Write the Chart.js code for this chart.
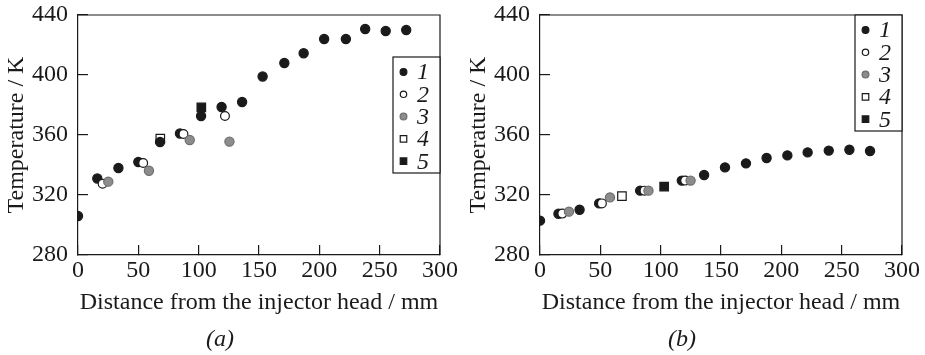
<!DOCTYPE html>
<html><head><meta charset="utf-8">
<script src="https://cdn.jsdelivr.net/npm/chart.js@4/dist/chart.umd.min.js"></script>
<style>
html,body{margin:0;padding:0;background:#fff;}
#wrap{position:relative;width:925px;height:355px;overflow:hidden;}
.panel{position:absolute;top:0;width:462px;height:355px;}
</style></head><body>
<div id="wrap">
<div class="panel" style="left:0"><canvas id="ca"></canvas></div>
<div class="panel" style="left:462px"><canvas id="cb"></canvas></div>
</div>
<script>
// ---- tick labels / categories ----
const xTicks = [0, 50, 100, 150, 200, 250, 300];
const yTicks = [280, 320, 360, 400, 440];
const seriesLabels = ['1', '2', '3', '4', '5'];
const xTitle = 'Distance from the injector head / mm';
const yTitle = 'Temperature / K';

// ---- panel (a) ----
const a1x = [0, 16, 33.5, 50, 68, 84.5, 102, 119, 136, 153, 171, 187, 204, 222, 238, 255, 272];
const a1y = [306, 331, 338, 342, 355.3, 361, 372.7, 378.7, 382, 399, 408, 414.5, 424, 424, 430.7, 429.3, 430];
const a2x = [20.4, 54, 87.4, 121.8];
const a2y = [327.5, 341.3, 360.7, 372.7];
const a3x = [25.1, 58.8, 92.6, 125.5];
const a3y = [328.9, 336.2, 356.7, 355.6];
const a4x = [68.2];
const a4y = [357.6];
const a5x = [102.2];
const a5y = [378.4];

// ---- panel (b) ----
const b1x = [0, 15.3, 32.8, 49, 83, 117.5, 136, 153.3, 170.7, 187.8, 205, 221.8, 239.3, 256.4, 273.5];
const b1y = [302.9, 307.5, 310.2, 314.4, 322.9, 329.6, 333.3, 338.4, 341.1, 344.7, 346.4, 348.4, 349.6, 350.2, 349.3];
const b2x = [18.5, 51.3, 86.6, 120.3];
const b2y = [307.6, 314.4, 322.9, 329.6];
const b3x = [24, 58, 89.9, 124.8];
const b3y = [308.9, 318.4, 322.9, 329.6];
const b4x = [67.9];
const b4y = [319.2];
const b5x = [102.9];
const b5y = [325.6];

const FONT = "'Liberation Serif', 'Times New Roman', serif";
const FS = 24;
const INK = '#1a1a1a';

const styles = [
  {pointStyle: 'circle', backgroundColor: INK, borderColor: INK, pointRadius: 4.6, order: 4, lr: 3.4},
  {pointStyle: 'circle', backgroundColor: '#ffffff', borderColor: INK, pointRadius: 4.4, order: 3, lr: 3.2},
  {pointStyle: 'circle', backgroundColor: '#8c8c8c', borderColor: '#6e6e6e', pointRadius: 4.6, order: 2, lr: 3.4},
  {pointStyle: 'rect', backgroundColor: '#ffffff', borderColor: INK, pointRadius: 6, order: 5, lr: 4.6},
  {pointStyle: 'rect', backgroundColor: INK, borderColor: INK, pointRadius: 6, order: 1, lr: 4.6}
];

function pts(xs, ys) { return xs.map((x, i) => ({x: x, y: ys[i]})); }

function buildDatasets(list) {
  return list.map((p, i) => ({
    label: seriesLabels[i],
    data: pts(p[0], p[1]),
    pointStyle: styles[i].pointStyle,
    backgroundColor: styles[i].backgroundColor,
    borderColor: styles[i].borderColor,
    pointBorderWidth: 1.2,
    pointRadius: styles[i].pointRadius,
    pointHoverRadius: styles[i].pointRadius,
    showLine: false,
    order: styles[i].order
  }));
}

const framePlugin = {
  id: 'frame',
  afterDraw(chart) {
    const {ctx, chartArea: a} = chart;
    ctx.save();
    ctx.strokeStyle = INK;
    ctx.lineWidth = 1.2;
    ctx.beginPath();
    ctx.moveTo(a.left, a.top);
    ctx.lineTo(a.right, a.top);
    ctx.lineTo(a.right, a.bottom);
    ctx.stroke();
    ctx.restore();
  }
};

const boxLegend = {
  id: 'boxLegend',
  afterDraw(chart, args, opts) {
    const {ctx, chartArea: a} = chart;
    const w = 47, h = 116;
    const left = a.right - w, top = opts.top;
    ctx.save();
    ctx.fillStyle = '#fff';
    ctx.fillRect(left, top, w, h);
    ctx.strokeStyle = INK;
    ctx.lineWidth = 1.2;
    ctx.strokeRect(left, top, w, h);
    chart.data.datasets.forEach((ds, i) => {
      const y = top + 15 + i * 22.3;
      ctx.fillStyle = ds.backgroundColor;
      ctx.strokeStyle = ds.borderColor;
      ctx.lineWidth = 1.2;
      Chart.helpers.drawPoint(ctx, {pointStyle: ds.pointStyle, radius: styles[i].lr, rotation: 0, borderWidth: 1.2}, left + 10.5, y);
      ctx.fillStyle = INK;
      ctx.font = 'italic ' + FS + 'px ' + FONT;
      ctx.textAlign = 'left';
      ctx.textBaseline = 'middle';
      ctx.fillText(ds.label, left + 24, y + 1);
    });
    ctx.restore();
  }
};

function makeChart(id, list, caption, legendTop) {
  return new Chart(document.getElementById(id), {
    type: 'scatter',
    data: {datasets: buildDatasets(list)},
    plugins: [framePlugin, boxLegend],
    options: {
      responsive: true,
      maintainAspectRatio: false,
      animation: false,
      events: [],
      layout: {padding: {left: 0, right: 22, top: 15, bottom: 0}},
      plugins: {
        legend: {display: false},
        tooltip: {enabled: false},
        boxLegend: {top: legendTop},
        title: {
          display: true, position: 'bottom', text: caption, color: INK,
          font: {family: FONT, size: FS, style: 'italic', weight: 'normal'},
          padding: {top: 0, bottom: 1}
        }
      },
      scales: {
        x: {
          type: 'linear', min: 0, max: 300,
          afterBuildTicks: s => { s.ticks = xTicks.map(v => ({value: v})); },
          afterFit: s => { s.height = 70.2; s.paddingLeft = 0; s.paddingRight = 0; },
          ticks: {color: INK, font: {family: FONT, size: FS}, padding: 11, maxRotation: 0, autoSkip: false},
          grid: {drawOnChartArea: false, drawTicks: true, tickLength: -10, color: INK, lineWidth: 1.2},
          border: {display: true, color: INK, width: 1.2},
          title: {display: true, text: xTitle, color: INK, font: {family: FONT, size: FS}, padding: {top: 0, bottom: 7.8}}
        },
        y: {
          type: 'linear', min: 280, max: 440,
          afterBuildTicks: s => { s.ticks = yTicks.map(v => ({value: v})); },
          afterFit: s => { s.width = 78; s.paddingTop = 0; s.paddingBottom = 0; },
          ticks: {color: INK, font: {family: FONT, size: FS}, padding: 20, autoSkip: false},
          grid: {drawOnChartArea: false, drawTicks: true, tickLength: -10, color: INK, lineWidth: 1.2},
          border: {display: true, color: INK, width: 1.2},
          title: {display: true, text: yTitle, color: INK, font: {family: FONT, size: FS}, padding: {top: 2, bottom: 0}}
        }
      }
    }
  });
}

function start() {
  makeChart('ca', [[a1x, a1y], [a2x, a2y], [a3x, a3y], [a4x, a4y], [a5x, a5y]], '(a)', 57);
  makeChart('cb', [[b1x, b1y], [b2x, b2y], [b3x, b3y], [b4x, b4y], [b5x, b5y]], '(b)', 15);
}
Promise.all([
  document.fonts.load("24px 'Liberation Serif'"),
  document.fonts.load("italic 24px 'Liberation Serif'")
]).then(start, start);
</script>
</body></html>
